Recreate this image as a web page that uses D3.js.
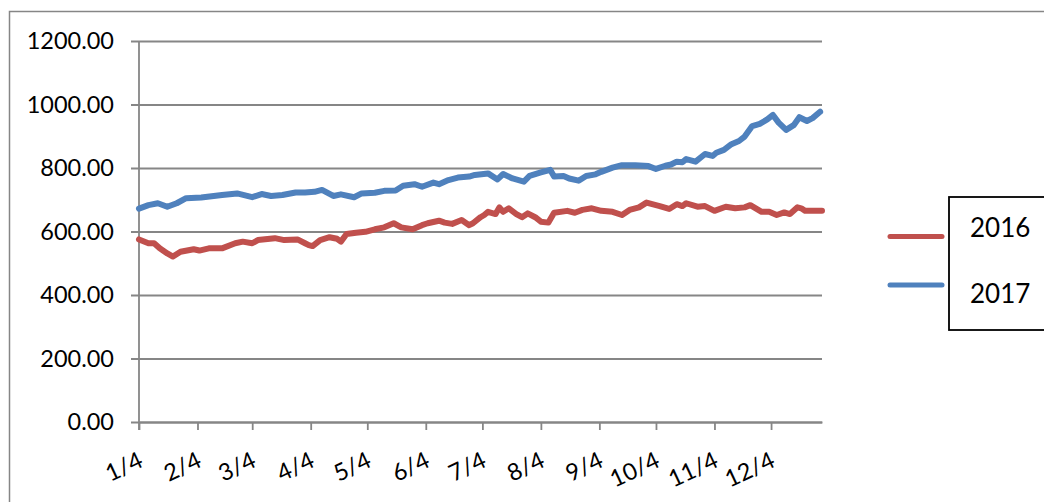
<!DOCTYPE html>
<html>
<head>
<meta charset="utf-8">
<script src="https://cdn.jsdelivr.net/npm/d3@7"></script>
<style>
  html, body { margin: 0; padding: 0; background: #fff; }
  svg { display: block; }
  text { font-family: Lato, "Open Sans", sans-serif; fill: #000; }
</style>
</head>
<body>
<svg id="chart" width="1044" height="502"></svg>
<script>
// Daily closing levels, plotted on a shared Jan–Dec calendar axis (month-day)
const dates2016 = ["01-04","01-09","01-12","01-15","01-19","01-22","01-26","02-02","02-05","02-10",
  "02-17","02-24","02-28","03-04","03-07","03-16","03-21","03-28","04-01","04-03",
  "04-05","04-09","04-14","04-18","04-20","04-23","04-28","05-03","05-08","05-13",
  "05-18","05-22","05-28","06-02","06-05","06-11","06-14","06-18","06-23","06-27",
  "06-29","07-03","07-05","07-07","07-11","07-13","07-15","07-18","07-22","07-25",
  "07-28","08-01","08-04","08-08","08-11","08-18","08-22","08-26","08-31","09-05",
  "09-11","09-16","09-20","09-25","09-29","10-04","10-06","10-11","10-15","10-18",
  "10-20","10-26","10-30","11-04","11-10","11-15","11-20","11-23","11-29","12-03",
  "12-07","12-11","12-14","12-18","12-20","12-22","12-27","12-31"];
const values2016 = [575,563,563,547,531,521,536,544,540,547,
  547,563,568,563,573,579,573,575,563,557,
  554,573,582,577,568,592,596,599,607,613,
  626,613,607,620,626,634,628,624,636,620,
  626,645,652,662,655,676,662,673,655,645,
  657,645,631,628,659,665,659,668,673,665,
  662,652,668,676,691,683,680,671,686,680,
  689,678,680,665,678,673,676,683,662,662,
  652,660,655,676,673,665,665,665];

const dates2017 = ["01-04","01-09","01-14","01-19","01-24","01-29","02-06","02-17","02-25","03-04",
  "03-09","03-14","03-20","03-27","04-01","04-06","04-10","04-16","04-20","04-27",
  "05-01","05-08","05-13","05-19","05-23","05-29","06-02","06-08","06-11","06-16",
  "06-21","06-27","06-30","07-07","07-12","07-15","07-20","07-26","07-29","08-04",
  "08-09","08-11","08-16","08-19","08-24","08-28","09-02","09-05","09-11","09-16",
  "09-23","09-30","10-04","10-09","10-12","10-15","10-18","10-20","10-25","10-30",
  "11-03","11-05","11-09","11-13","11-17","11-20","11-24","11-28","12-02","12-05",
  "12-08","12-12","12-16","12-19","12-23","12-26","12-30"];
const values2017 = [672,683,689,678,689,705,707,715,720,708,
  718,712,715,723,723,725,731,712,717,708,
  720,722,728,729,744,749,741,754,749,762,
  770,773,778,783,764,781,767,757,775,786,
  794,773,775,767,760,775,780,788,801,809,
  809,806,797,807,811,820,818,828,820,844,
  838,848,857,875,885,899,932,939,953,967,
  943,920,935,960,948,957,977];

const tickLabels = ["1/4","2/4","3/4","4/4","5/4","6/4","7/4","8/4","9/4","10/4","11/4","12/4"];
const yTicks = [0, 200, 400, 600, 800, 1000, 1200];
const seriesNames = ["2016", "2017"];
const seriesColors = ["#C0504D", "#4F81BD"];

const parse = d3.timeParse("%Y-%m-%d");
const toDate = md => parse("2016-" + md);

const svg = d3.select("#chart");
const gridColor = "#868686";
const labelFont = "Lato, 'Open Sans', sans-serif";

// outer chart frame (extends past the right and bottom edges)
svg.append("rect")
  .attr("x", 9.5).attr("y", 11.5)
  .attr("width", 1100).attr("height", 520)
  .attr("fill", "none").attr("stroke", gridColor).attr("stroke-width", 1.5);

const plot = { left: 139, right: 822, top: 41, bottom: 422 };

const x = d3.scaleTime()
  .domain([toDate("01-04"), toDate("12-31")])
  .range([plot.left, plot.right]);
const y = d3.scaleLinear().domain([0, 1200]).range([plot.bottom, plot.top]);

// horizontal gridlines + y axis
const yAxis = d3.axisLeft(y).tickValues(yTicks).tickFormat(d3.format(".2f"))
  .tickSize(-(plot.right - plot.left)).tickSizeOuter(0).tickPadding(25);
const gy = svg.append("g").attr("transform", `translate(${plot.left},0)`).call(yAxis);
gy.select(".domain").remove();
gy.selectAll(".tick line")
  .attr("x1", -8)
  .attr("stroke", gridColor).attr("stroke-width", 1.8);
gy.selectAll(".tick text")
  .attr("font-size", 23.5).attr("fill", "#000")
  .attr("font-family", labelFont);

// vertical axis line
svg.append("line")
  .attr("x1", plot.left).attr("x2", plot.left)
  .attr("y1", plot.top).attr("y2", plot.bottom + 8)
  .attr("stroke", gridColor).attr("stroke-width", 1.8);

// x axis ticks on the 4th of each month
const tickDates = tickLabels.map(t => {
  const [m, d] = t.split("/");
  return toDate(String(m).padStart(2, "0") + "-" + String(d).padStart(2, "0"));
});
const xAxis = d3.axisBottom(x).tickValues(tickDates)
  .tickFormat((d, i) => tickLabels[i]).tickSize(8).tickSizeOuter(0);
const gx = svg.append("g").attr("transform", `translate(0,${plot.bottom})`).call(xAxis);
gx.select(".domain").attr("stroke", gridColor).attr("stroke-width", 1.8);
gx.selectAll(".tick line").attr("stroke", gridColor).attr("stroke-width", 1.8);
gx.selectAll(".tick text")
  .attr("font-size", 23.5).attr("fill", "#000")
  .attr("font-family", labelFont)
  .attr("text-anchor", "end")
  .attr("dy", null).attr("y", null)
  .attr("transform", "translate(5,44) rotate(-25)");

// series lines
const line = d3.line().x(d => x(d.date)).y(d => y(d.value)).curve(d3.curveLinear);
const series = [
  dates2016.map((d, i) => ({ date: toDate(d), value: values2016[i] })),
  dates2017.map((d, i) => ({ date: toDate(d), value: values2017[i] }))
];
series.forEach((s, i) => {
  svg.append("path").datum(s)
    .attr("d", line)
    .attr("fill", "none")
    .attr("stroke", seriesColors[i])
    .attr("stroke-width", 6)
    .attr("stroke-linejoin", "round")
    .attr("stroke-linecap", "round");
});

// legend
const legend = svg.append("g");
legend.append("rect")
  .attr("x", 949).attr("y", 197)
  .attr("width", 140).attr("height", 133)
  .attr("fill", "#fff").attr("stroke", "#000").attr("stroke-width", 1.8);
const legendY = [236.5, 285];
const textY = [236.5, 303];
seriesNames.forEach((name, i) => {
  legend.append("line")
    .attr("x1", 890).attr("x2", 942)
    .attr("y1", legendY[i]).attr("y2", legendY[i])
    .attr("stroke", seriesColors[i]).attr("stroke-width", 5)
    .attr("stroke-linecap", "round");
  legend.append("text")
    .attr("x", 970).attr("y", textY[i])
    .attr("font-size", 26)
    .attr("font-family", labelFont)
    .text(name);
});
</script>
</body>
</html>
